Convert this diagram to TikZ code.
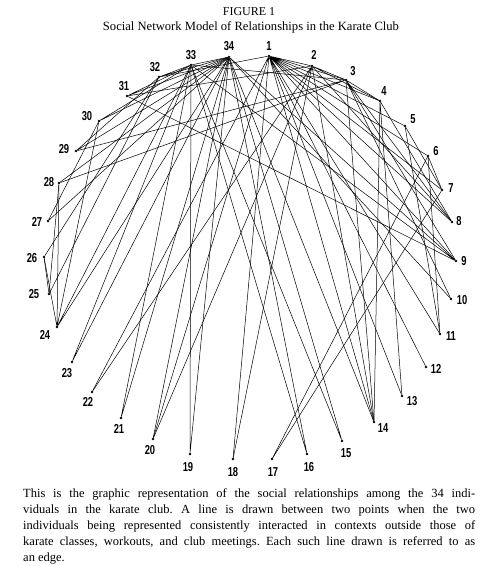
\documentclass[tikz,border=0pt]{standalone}
\usepackage{fontspec}
\setmainfont{Liberation Serif}
\newfontfamily\numfont[FakeStretch=0.72]{Liberation Sans}
\frenchspacing

\tikzset{
  dot/.style={circle,fill=black,inner sep=0pt,minimum size=2.6pt},
  num/.style={font=\numfont\bfseries\fontsize{13}{13}\selectfont,inner sep=0pt},
  tie/.style={line width=.5pt}
}

\begin{document}
\begin{tikzpicture}[x=1pt,y=-1pt]
            \useasboundingbox (0,0) rectangle (499,566);
            \node[font=\fontsize{12}{14}\selectfont] (fig) at (249,12) {FIGURE 1};
            \node[font=\fontsize{12.6}{14}\selectfont] (title) at (251,27) {Social Network Model of Relationships in the Karate Club};
            \node[dot] (v1) at (269,56) {};
            \node[dot] (v2) at (312,66) {};
            \node[dot] (v3) at (346,80) {};
            \node[dot] (v4) at (380,101) {};
            \node[dot] (v5) at (405,126) {};
            \node[dot] (v6) at (428,156) {};
            \node[dot] (v7) at (442,190) {};
            \node[dot] (v8) at (452,222) {};
            \node[dot] (v9) at (456,261) {};
            \node[dot] (v10) at (451,299) {};
            \node[dot] (v11) at (440,334) {};
            \node[dot] (v12) at (426,367) {};
            \node[dot] (v13) at (402,396) {};
            \node[dot] (v14) at (374,422) {};
            \node[dot] (v15) at (342,441) {};
            \node[dot] (v16) at (307,454) {};
            \node[dot] (v17) at (272,459) {};
            \node[dot] (v18) at (233,459) {};
            \node[dot] (v19) at (190,454) {};
            \node[dot] (v20) at (153,439) {};
            \node[dot] (v21) at (121,418) {};
            \node[dot] (v22) at (92,392) {};
            \node[dot] (v23) at (72,362) {};
            \node[dot] (v24) at (57,327) {};
            \node[dot] (v25) at (49,294) {};
            \node[dot] (v26) at (44,257) {};
            \node[dot] (v27) at (48,221) {};
            \node[dot] (v28) at (59,183) {};
            \node[dot] (v29) at (76,151) {};
            \node[dot] (v30) at (99,121) {};
            \node[dot] (v31) at (127,96) {};
            \node[dot] (v32) at (159,77) {};
            \node[dot] (v33) at (191,65) {};
            \node[dot] (v34) at (229,57) {};
            \node[num] (l1) at (269,46) {1};
            \node[num] (l2) at (314,55) {2};
            \node[num] (l3) at (353,71) {3};
            \node[num] (l4) at (384,91) {4};
            \node[num] (l5) at (413,119) {5};
            \node[num] (l6) at (436,151) {6};
            \node[num] (l7) at (451,188) {7};
            \node[num] (l8) at (459,221) {8};
            \node[num] (l9) at (464,261) {9};
            \node[num] (l10) at (462,300) {10};
            \node[num] (l11) at (451,336) {11};
            \node[num] (l12) at (436,369) {12};
            \node[num] (l13) at (412,401) {13};
            \node[num] (l14) at (383,428) {14};
            \node[num] (l15) at (346,453) {15};
            \node[num] (l16) at (309,467) {16};
            \node[num] (l17) at (273,472) {17};
            \node[num] (l18) at (233,472) {18};
            \node[num] (l19) at (188,467) {19};
            \node[num] (l20) at (150,450) {20};
            \node[num] (l21) at (119,429) {21};
            \node[num] (l22) at (88,402) {22};
            \node[num] (l23) at (67,373) {23};
            \node[num] (l24) at (45,335) {24};
            \node[num] (l25) at (34,294) {25};
            \node[num] (l26) at (32,258) {26};
            \node[num] (l27) at (37,222) {27};
            \node[num] (l28) at (49,182) {28};
            \node[num] (l29) at (64,149) {29};
            \node[num] (l30) at (87,116) {30};
            \node[num] (l31) at (124,86) {31};
            \node[num] (l32) at (155,67) {32};
            \node[num] (l33) at (191,55) {33};
            \node[num] (l34) at (229,46) {34};
            \draw[tie] (v1) -- (v2) (v1) -- (v3) (v1) -- (v4) (v1) -- (v5) (v1) -- (v6) (v1) -- (v7) (v1) -- (v8) (v1) -- (v9) (v1) -- (v11) (v1) -- (v12) (v1) -- (v13) (v1) -- (v14) (v1) -- (v18) (v1) -- (v20) (v1) -- (v22) (v1) -- (v32);
            \draw[tie] (v2) -- (v3) (v2) -- (v4) (v2) -- (v8) (v2) -- (v14) (v2) -- (v18) (v2) -- (v20) (v2) -- (v22) (v2) -- (v31);
            \draw[tie] (v3) -- (v4) (v3) -- (v8) (v3) -- (v9) (v3) -- (v10) (v3) -- (v14) (v3) -- (v28) (v3) -- (v29) (v3) -- (v33);
            \draw[tie] (v4) -- (v8) (v4) -- (v13) (v4) -- (v14);
            \draw[tie] (v5) -- (v7) (v5) -- (v11);
            \draw[tie] (v6) -- (v7) (v6) -- (v11) (v6) -- (v17);
            \draw[tie] (v7) -- (v17);
            \draw[tie] (v9) -- (v31) (v9) -- (v33) (v9) -- (v34);
            \draw[tie] (v10) -- (v34);
            \draw[tie] (v14) -- (v34);
            \draw[tie] (v15) -- (v33) (v15) -- (v34);
            \draw[tie] (v16) -- (v33) (v16) -- (v34);
            \draw[tie] (v19) -- (v33) (v19) -- (v34);
            \draw[tie] (v20) -- (v34);
            \draw[tie] (v21) -- (v33) (v21) -- (v34);
            \draw[tie] (v23) -- (v33) (v23) -- (v34);
            \draw[tie] (v24) -- (v26) (v24) -- (v28) (v24) -- (v30) (v24) -- (v33) (v24) -- (v34);
            \draw[tie] (v25) -- (v26) (v25) -- (v28) (v25) -- (v32);
            \draw[tie] (v26) -- (v32);
            \draw[tie] (v27) -- (v30) (v27) -- (v34);
            \draw[tie] (v28) -- (v34);
            \draw[tie] (v29) -- (v32) (v29) -- (v34);
            \draw[tie] (v30) -- (v33) (v30) -- (v34);
            \draw[tie] (v31) -- (v33) (v31) -- (v34);
            \draw[tie] (v32) -- (v33) (v32) -- (v34);
            \draw[tie] (v33) -- (v34);
            \node[anchor=north west,inner sep=0pt,text width=452pt,align=justify,font=\fontsize{12.5}{16}\selectfont] (note) at (23,488) {This is the graphic representation of the social relationships among the 34 indi-\linebreak viduals in the karate club. A line is drawn between two points when the two\linebreak individuals being represented consistently interacted in contexts outside those of\linebreak karate classes, workouts, and club meetings. Each such line drawn is referred to as\linebreak an edge.};
        \end{tikzpicture}
\end{document}
